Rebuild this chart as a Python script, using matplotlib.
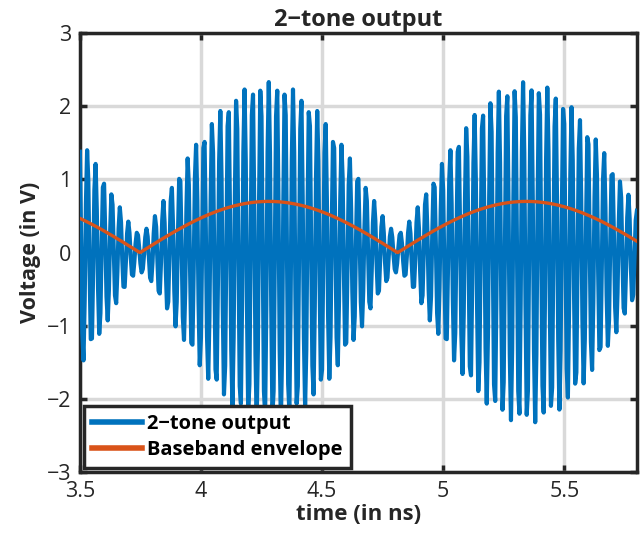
import numpy as np
import matplotlib
matplotlib.use("Agg")
import matplotlib.pyplot as plt

plt.rcParams['font.family'] = ['Open Sans', 'DejaVu Sans']

# Two-tone test signal parameters (GHz, V, ns)
tone_freqs = [29.53, 30.47]
tone_amps = [1.30, 1.03]
envelope_peak = 0.70
peak_time = 4.28
t_start, t_stop, t_step = 3.5, 5.8, 0.005

xticks = [3.5, 4, 4.5, 5, 5.5]
yticks = [-3, -2, -1, 0, 1, 2, 3]

t = np.arange(t_start, t_stop + t_step, t_step)
signal = sum(a * np.cos(2 * np.pi * f * (t - peak_time))
             for f, a in zip(tone_freqs, tone_amps))
beat = tone_freqs[1] - tone_freqs[0]
t_env = np.linspace(t_start, t_stop, 600)
envelope = envelope_peak * np.abs(np.cos(np.pi * beat * (t_env - peak_time)))

fig = plt.figure(figsize=(6.44, 5.33), dpi=100)
ax = fig.add_axes([0.124, 0.114, 0.865, 0.824])

ax.plot(t, signal, color='#0072BD', lw=3.0, solid_joinstyle='round',
        label='2\u2212tone output', zorder=3)
ax.plot(t_env, envelope, color='#D95319', lw=2.4, label='Baseband envelope', zorder=4)

ax.set_xlim(3.5, 5.8)
ax.set_ylim(-3, 3)
ax.set_xticks(xticks)
ax.set_xticklabels([f"{v:g}" for v in xticks])
ax.set_yticks(yticks)
ax.set_yticklabels([f"{v:g}".replace('-', '\u2212') for v in yticks])

ax.grid(True, color='#d9d9d9', lw=2.5, zorder=0)
ax.set_axisbelow(True)
for s in ax.spines.values():
    s.set_linewidth(2.5)
    s.set_color('#262626')
ax.tick_params(direction='in', length=5, width=2.5, colors='#262626',
               labelsize=15.5, top=True, right=True, pad=6)
for lbl in ax.get_xticklabels() + ax.get_yticklabels():
    lbl.set_color('#262626')

ax.set_title('2\u2212tone output', fontsize=17, fontweight='bold', color='#262626', pad=5)
ax.set_xlabel('time (in ns)', fontsize=16, fontweight='bold', color='#262626', labelpad=2)
ax.set_ylabel('Voltage (in V)', fontsize=15.5, fontweight='bold', color='#262626', labelpad=4)

leg = ax.legend(loc='lower left', prop={'weight': 'bold', 'size': 14.5},
                frameon=True, fancybox=False, handlelength=2.5, borderaxespad=0.2,
                borderpad=0.4, labelspacing=0.3, handletextpad=0.25)
leg.get_frame().set_edgecolor('#262626')
leg.get_frame().set_linewidth(2.5)
leg.get_frame().set_alpha(1)
for line in leg.get_lines():
    line.set_linewidth(4)

fig.savefig('out.png', dpi=100)
